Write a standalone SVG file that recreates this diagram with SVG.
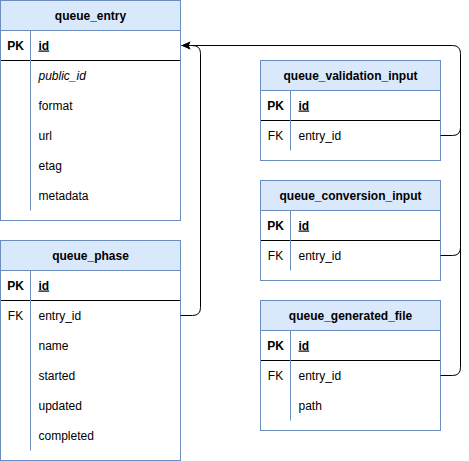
<svg xmlns="http://www.w3.org/2000/svg" width="469" height="461" viewBox="0 0 469 461">
  <style>
    .box { fill: none; stroke: #6c8ebf; stroke-width: 1; }
    .body { fill: #ffffff; stroke: none; }
    .head { fill: #dae8fc; stroke: #6c8ebf; stroke-width: 1; }
    .sep { stroke: #000000; stroke-width: 1; }
    .div { stroke: #6c8ebf; stroke-width: 1; }
    text { font-family: "Liberation Sans", Arial, Helvetica, sans-serif; font-size: 12px; fill: #000000; }
    .title { font-weight: bold; text-anchor: middle; }
    .key { text-anchor: middle; }
    .pk { font-weight: bold; }
    .pkf { font-weight: bold; text-decoration: underline; }
    .it { font-style: italic; }
    .link { fill: none; stroke: #000000; stroke-width: 1; }
  </style>
  <defs>
    <marker id="arrow" markerUnits="userSpaceOnUse" markerWidth="10" markerHeight="10" refX="9" refY="4" orient="auto">
      <path d="M0,0 L9,4 L0,8 L2,4 Z" fill="#000000"/>
    </marker>
  </defs>

  <rect width="469" height="461" fill="#ffffff"/>

  <!-- queue_entry table -->
  <g id="queue_entry" transform="translate(0.5,0.5)">
    <rect class="body" width="180" height="220"/>
    <rect class="head" width="180" height="30"/>
    <line class="sep" x1="0" y1="60" x2="180" y2="60"/>
    <line class="div" x1="30" y1="30" x2="30" y2="210"/>
    <rect class="box" width="180" height="220"/>
    <text class="title" x="90" y="19">queue_entry</text>
    <text class="key pk" x="15" y="49">PK</text>
    <text class="pkf" x="38" y="49">id</text>
    <text class="it" x="38" y="79">public_id</text>
    <text x="38" y="109">format</text>
    <text x="38" y="139">url</text>
    <text x="38" y="169">etag</text>
    <text x="38" y="199">metadata</text>
  </g>

  <!-- queue_phase table -->
  <g id="queue_phase" transform="translate(0.5,240.5)">
    <rect class="body" width="180" height="220"/>
    <rect class="head" width="180" height="30"/>
    <line class="sep" x1="0" y1="60" x2="180" y2="60"/>
    <line class="div" x1="30" y1="30" x2="30" y2="210"/>
    <rect class="box" width="180" height="220"/>
    <text class="title" x="90" y="19">queue_phase</text>
    <text class="key pk" x="15" y="49">PK</text>
    <text class="pkf" x="38" y="49">id</text>
    <text class="key" x="15" y="79">FK</text>
    <text x="38" y="79">entry_id</text>
    <text x="38" y="109">name</text>
    <text x="38" y="139">started</text>
    <text x="38" y="169">updated</text>
    <text x="38" y="199">completed</text>
  </g>

  <!-- queue_validation_input table -->
  <g id="queue_validation_input" transform="translate(260.5,60.5)">
    <rect class="body" width="180" height="100"/>
    <rect class="head" width="180" height="30"/>
    <line class="sep" x1="0" y1="60" x2="180" y2="60"/>
    <line class="div" x1="30" y1="30" x2="30" y2="90"/>
    <rect class="box" width="180" height="100"/>
    <text class="title" x="90" y="19">queue_validation_input</text>
    <text class="key pk" x="15" y="49">PK</text>
    <text class="pkf" x="38" y="49">id</text>
    <text class="key" x="15" y="79">FK</text>
    <text x="38" y="79">entry_id</text>
  </g>

  <!-- queue_conversion_input table -->
  <g id="queue_conversion_input" transform="translate(260.5,180.5)">
    <rect class="body" width="180" height="100"/>
    <rect class="head" width="180" height="30"/>
    <line class="sep" x1="0" y1="60" x2="180" y2="60"/>
    <line class="div" x1="30" y1="30" x2="30" y2="90"/>
    <rect class="box" width="180" height="100"/>
    <text class="title" x="90" y="19">queue_conversion_input</text>
    <text class="key pk" x="15" y="49">PK</text>
    <text class="pkf" x="38" y="49">id</text>
    <text class="key" x="15" y="79">FK</text>
    <text x="38" y="79">entry_id</text>
  </g>

  <!-- queue_generated_file table -->
  <g id="queue_generated_file" transform="translate(260.5,300.5)">
    <rect class="body" width="180" height="130"/>
    <rect class="head" width="180" height="30"/>
    <line class="sep" x1="0" y1="60" x2="180" y2="60"/>
    <line class="div" x1="30" y1="30" x2="30" y2="120"/>
    <rect class="box" width="180" height="130"/>
    <text class="title" x="90" y="19">queue_generated_file</text>
    <text class="key pk" x="15" y="49">PK</text>
    <text class="pkf" x="38" y="49">id</text>
    <text class="key" x="15" y="79">FK</text>
    <text x="38" y="79">entry_id</text>
    <text x="38" y="109">path</text>
  </g>

  <!-- foreign key links to queue_entry.id -->
  <g id="connectors" transform="translate(0.5,0.5)">
    <path id="link_validation" class="link" marker-end="url(#arrow)" d="M440,135 H452 Q460,135 460,127 V53 Q460,45 452,45 H181"/>
    <path id="link_conversion" class="link" d="M440,255 H452 Q460,255 460,247 V127"/>
    <path id="link_generated" class="link" d="M440,375 H452 Q460,375 460,367 V247"/>
    <path id="link_phase" class="link" marker-end="url(#arrow)" d="M180,315 H192 Q200,315 200,307 V53 Q200,45 192,45 H181"/>
  </g>
</svg>
